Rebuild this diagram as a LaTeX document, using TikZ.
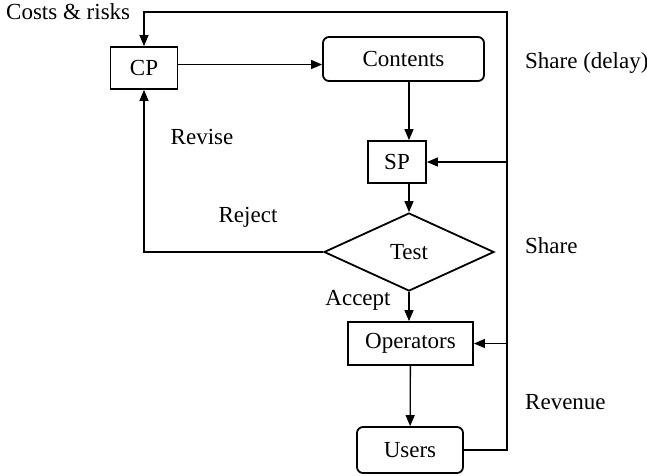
\documentclass[tikz,border=0pt]{standalone}
\usepackage{fontspec}
\setmainfont{Liberation Serif}
\usetikzlibrary{arrows.meta,positioning,shapes}

\begin{document}
\begin{tikzpicture}[x=1pt, y=-1pt, font=\fontsize{23}{27}\selectfont,
	>={Triangle[length=11pt, width=9pt]}]
	\tikzstyle{block}
	  =[draw, line width=1.8pt, rectangle, inner sep=0pt, text centered]
	\tikzstyle{block_round}
	  =[draw, line width=1.8pt, rectangle, rounded corners=6pt,
	  inner sep=0pt, text centered]
	\tikzstyle{test_diamond}
	  =[draw, line width=1.8pt, diamond, inner sep=0pt,
	  minimum width=170pt, minimum height=78pt]
	\tikzstyle{flow}
	  =[->, line width=1.3pt]
	\tikzstyle{label_txt}
	  =[inner sep=0pt, anchor=west]

	\useasboundingbox (0,0) rectangle (647,475);

	\node[block, minimum width=67pt, minimum height=42pt] (CP)
	  at (144,68) {CP};
	\node[block_round, minimum width=161pt, minimum height=44pt] (Contents)
	  at (403.5,59) {Contents};
	\node[block, minimum width=58pt, minimum height=42pt] (SP)
	  at (397,162) {SP};
	\node[test_diamond] (Test)
	  at (409,252) {Test};
	\node[block, minimum width=125pt, minimum height=43pt] (Operators)
	  at (410.5,343.5) {Operators};
	\node[block_round, minimum width=106pt, minimum height=46pt] (Users)
	  at (410,450) {Users};

	\coordinate (bus_top) at (507,12);

	% labels
	\node[label_txt] (costs) at (6,12) {Costs \& risks};
	\node[label_txt] (share_delay) at (525,63) {Share (delay)};
	\node[label_txt] (share) at (525,246) {Share};
	\node[label_txt] (revenue) at (525,402) {Revenue};
	\node[inner sep=0pt] (revise) at (202,137) {Revise};
	\node[inner sep=0pt] (reject) at (248,217) {Reject};
	\node[inner sep=0pt] (accept) at (358,300) {Accept};

	% connectors
	\draw[flow] ([yshift=3.5pt]CP.east) -- ([yshift=3.5pt]CP.east -| Contents.west);
	\draw[flow] (Contents.south -| Test.north) -- (SP.north -| Test.north);
	\draw[flow] (SP.south -| Test.north) -- (Test.north);
	\draw[flow] (Test.south) -- (Operators.north -| Test.south);
	\draw[flow] (Operators) -- (Users);
	\draw[flow] (Test.west) -| (CP.south);
	\draw[flow] (Users.east) -| (bus_top) -| (CP.north);
	\draw[flow] (SP.east -| bus_top) -- (SP.east);
	\draw[flow] (Operators.east -| bus_top) -- (Operators.east);
\end{tikzpicture}
\end{document}
